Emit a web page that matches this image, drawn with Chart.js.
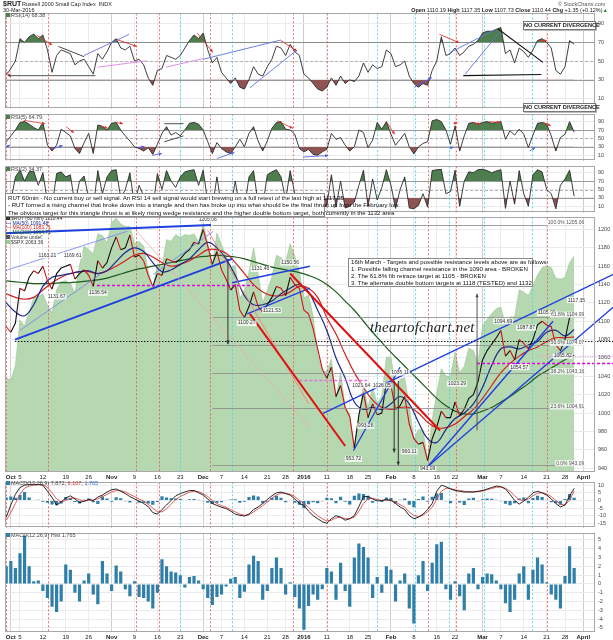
<!DOCTYPE html>
<html>
<head>
<meta charset="utf-8">
<title>$RUT 60 min</title>
<script src="https://cdn.jsdelivr.net/npm/chart.js@4.4.1/dist/chart.umd.min.js"></script>
<style>
  html, body { margin: 0; padding: 0; background: #fff; }
  body { width: 613px; height: 640px; position: relative; overflow: hidden; font-family: "Liberation Sans", Arial, sans-serif; color: #222; }
  canvas { position: absolute; left: 0; }
  .t { position: absolute; white-space: nowrap; font-size: 5.5px; line-height: 6px; }
  .box { position: absolute; background: #fff; border: 1px solid #8a8a8a; box-sizing: border-box; white-space: nowrap; color: #111; }
  .ncd { position: absolute; left: 523px; width: 73px; height: 9px; background: #fff; border: 1px solid #777; box-shadow: 1px 1px 0 #bbb; box-sizing: border-box; font-size: 5.6px; line-height: 7px; font-weight: bold; text-align: center; white-space: nowrap; }
  .ic { display: inline-block; width: 4px; height: 4px; margin-right: 1px; }
</style>
</head>
<body>
<canvas id="cRsi14"></canvas>
<canvas id="cRsi5"></canvas>
<canvas id="cRsi2"></canvas>
<canvas id="cPrice"></canvas>
<canvas id="cMacd"></canvas>
<canvas id="cHist"></canvas>

<div class="t" style="left:3px;top:0px;font-size:7px;line-height:8px;font-weight:bold">$RUT</div>
<div class="t" style="left:22px;top:1px">Russell 2000 Small Cap Index&nbsp; INDX</div>
<div class="t" style="left:3px;top:7px">30-Mar-2016</div>
<div class="t" style="left:558px;top:1px;color:#555">© StockCharts.com</div>
<div class="t" style="right:5px;top:7px"><b>Open</b> 1110.19 <b>High</b> 1117.35 <b>Low</b> 1107.73 <b>Close</b> 1110.44 <b>Chg</b> +1.35 (+0.12%)<span style="color:#2a8a2a">▲</span></div>

<div class="t" style="left:6px;top:12px;color:#444"><span class="ic" style="background:#4e7d4e"></span>RSI(14) 68.38</div>
<div class="t" style="left:6px;top:114px;color:#444"><span class="ic" style="background:#4e7d4e"></span>RSI(5) 64.79</div>
<div class="t" style="left:6px;top:166px;color:#444"><span class="ic" style="background:#4e7d4e"></span>RSI(2) 34.37</div>
<div class="ncd" style="top:21px">NO CURRENT DIVERGENCE</div>
<div class="ncd" style="top:103px">NO CURRENT DIVERGENCE</div>

<div class="t" style="left:6px;top:216px;line-height:4.7px;font-size:5px;color:#333">
  <span class="ic" style="background:#333"></span>$RUT (60 min) 1110.44<br>
  <span style="color:#1c2a8c">— MA(50) 1091.48</span><br>
  <span style="color:#d02020">— MA(100) 1083.71</span><br>
  <span style="color:#1d5a1d">— MA(200) 1064.71</span><br>
  <span class="ic" style="background:#555"></span>Volume undef<br>
  <span class="ic" style="background:#9cc897"></span>$SPX 2063.36
</div>
<div class="t" style="left:6px;top:480px;color:#444"><span class="ic" style="background:#2f7fa8"></span>MACD(12,26,9) 7.872, <span style="color:#d03030">6.107</span>, <span style="color:#2f6fd8">1.765</span></div>
<div class="t" style="left:6px;top:532px;color:#444"><span class="ic" style="background:#2f7fa8"></span>MACD(12,26,9) Hist 1.765</div>

<div class="box" style="left:5px;top:193px;width:320px;height:24px;font-size:6.1px;line-height:7.4px;padding:0 2px">
RUT 60min - No current buy or sell signal. An RSI 14 sell signal would start brewing on a full retest of the last high at 1117.35<br>
- RUT formed a rising channel that broke down into a triangle and then has broke up into what should be the final thrust up from the February low.<br>
The obvious target for this triangle thrust is at likely rising wedge resistance and the higher double bottom target, both currently in the 1132 area
</div>
<div class="box" style="left:348px;top:258px;width:185px;height:29px;font-size:6.1px;line-height:6.9px;padding:0 2px">
16th March - Targets and possible resistance levels above are as follows:<br>
1. Possible falling channel resistance in the 1090 area - BROKEN<br>
2. The 61.8% fib retrace target at 1105 - BROKEN<br>
3. The alternate double bottom targets at 1118 (TESTED) and 1132
</div>
<div class="t" style="left:370px;top:319px;font:italic 15px 'Liberation Serif';line-height:16px;letter-spacing:0.2px;color:#222">theartofchart.net</div>

<script>
// time axis: trading day index, 0 = 30 Sep 2015 ... 124 = 30 Mar 2016
const dateTickIdx = [1, 3, 8, 13, 18, 23, 28, 33, 38, 43, 47, 52, 57, 61, 65, 70, 75, 79, 84, 89, 94, 98, 104, 108, 113, 118, 122, 126];
const dateTickText = ['Oct', '5', '12', '19', '26', 'Nov', '9', '16', '23', 'Dec', '7', '14', '21', '28', '2016', '11', '18', '25', 'Feb', '8', '16', '22', 'Mar', '7', '14', '21', '28', 'April'];
const monthTickIdx = [1, 23, 43, 65, 84, 104, 126];
const redMarks = [0, 9.1, 28.3, 33.4, 44.5, 62.6, 70, 92.1, 98.2, 118.1];
const cyanMarks = [37.9, 49.3, 81, 89.3, 96.7, 104.3, 114.8];

const rsiTicks = [10, 30, 50, 70, 90];
const priceTicks = [940, 950, 960, 970, 980, 990, 1000, 1010, 1020, 1030, 1040, 1050, 1060, 1070, 1080, 1090, 1100, 1110, 1120, 1130, 1140, 1150, 1160, 1170, 1180, 1190, 1200, 1210];
const macdTicks = [-15, -10, -5, 0, 5, 10];
const histTicks = [-5, -4, -3, -2, -1, 0, 1, 2, 3, 4, 5];

// $RUT, one value per trading day
const rut = [
  1094, 1088, 1098, 1136, 1133, 1148, 1155, 1152, 1160, 1144,
  1135, 1152, 1158, 1160, 1162, 1146, 1152, 1156, 1150, 1138,
  1166, 1158, 1164, 1180, 1192, 1178, 1180, 1194, 1170, 1172,
  1166, 1150, 1138, 1152, 1150, 1168, 1166, 1164, 1168, 1174,
  1178, 1186, 1184, 1200, 1182, 1162, 1176, 1156, 1146, 1134,
  1140, 1112, 1104, 1116, 1132, 1116, 1110, 1118, 1126, 1138,
  1136, 1128, 1148, 1140, 1136, 1112, 1108, 1092, 1070, 1048,
  1038, 1050, 1018, 1030, 1006, 996, 962, 998, 1022, 995,
  1010, 998, 1000, 1034, 1030, 1004, 1008, 1018, 988, 972,
  966, 968, 948, 972, 985, 1002, 995, 995, 1012, 997,
  1004, 1016, 1020, 1034, 1058, 1068, 1075, 1082, 1090, 1062,
  1068, 1058, 1080, 1076, 1070, 1080, 1096, 1100, 1096, 1094,
  1074, 1068, 1080, 1104, 1110
];
// $SPX overlay (green area)
const spx = [
  1915, 1912, 1930, 1985, 1978, 1995, 2012, 2014, 2017, 2003,
  1994, 2022, 2032, 2033, 2030, 2018, 2052, 2075, 2071, 2066,
  2090, 2088, 2079, 2104, 2109, 2102, 2099, 2099, 2078, 2081,
  2075, 2045, 2023, 2053, 2050, 2083, 2081, 2089, 2086, 2089,
  2088, 2090, 2080, 2102, 2079, 2049, 2091, 2077, 2063, 2047,
  2052, 2012, 2021, 2043, 2073, 2041, 2006, 2021, 2038, 2064,
  2061, 2056, 2078, 2063, 2044, 2012, 2016, 1990, 1943, 1922,
  1923, 1938, 1890, 1921, 1880, 1870, 1830, 1868, 1907, 1878,
  1903, 1883, 1893, 1940, 1940, 1904, 1913, 1915, 1880, 1840,
  1852, 1851, 1815, 1864, 1896, 1926, 1917, 1917, 1946, 1921,
  1929, 1951, 1948, 1932, 1978, 1986, 1993, 1999, 2001, 1979,
  1989, 1989, 2022, 2019, 2015, 2027, 2040, 2049, 2051, 2049,
  2036, 2035, 2037, 2055, 2063
];
// moving averages, every 2nd trading day
const maStep = 2;
const ma50 = [
  1120, 1110, 1106, 1118, 1138, 1148, 1150, 1152, 1154, 1155,
  1152, 1155, 1165, 1175, 1180, 1176, 1164, 1154, 1156, 1162,
  1168, 1178, 1186, 1180, 1168, 1150, 1128, 1118, 1118, 1122,
  1130, 1136, 1140, 1132, 1112, 1090, 1060, 1038, 1012, 1004,
  1006, 1004, 1010, 1018, 1010, 990, 972, 968, 982, 994,
  1000, 1010, 1028, 1052, 1070, 1072, 1070, 1074, 1078, 1088,
  1090, 1084, 1091
];
const ma100 = [
  1130, 1126, 1124, 1126, 1134, 1142, 1148, 1152, 1154, 1154,
  1152, 1155, 1160, 1166, 1172, 1174, 1170, 1164, 1160, 1162,
  1166, 1172, 1178, 1178, 1174, 1164, 1152, 1140, 1132, 1128,
  1128, 1132, 1138, 1136, 1126, 1104, 1086, 1064, 1044, 1028,
  1014, 1006, 1004, 1006, 1006, 1000, 990, 984, 984, 988,
  996, 1004, 1016, 1030, 1044, 1054, 1062, 1068, 1072, 1078,
  1082, 1082, 1083
];
const ma200 = [
  1144, 1143, 1142, 1141, 1141, 1141, 1142, 1142, 1143, 1144,
  1145, 1147, 1150, 1153, 1156, 1158, 1160, 1162, 1164, 1166,
  1168, 1170, 1171, 1172, 1171, 1170, 1168, 1165, 1162, 1159,
  1157, 1155, 1153, 1150, 1146, 1140, 1132, 1122, 1112, 1100,
  1088, 1077, 1066, 1056, 1046, 1036, 1026, 1016, 1008, 1002,
  999, 999, 1002, 1006, 1012, 1018, 1025, 1032, 1040, 1046,
  1052, 1058, 1063
];
const rsi14 = [
  35, 42, 50, 74, 70, 76, 79, 74, 78, 62,
  38, 56, 62, 60, 58, 46, 50, 52, 44, 36,
  58, 52, 60, 70, 74, 64, 62, 66, 50, 52,
  46, 32, 24, 40, 42, 56, 54, 52, 56, 64,
  72, 78, 74, 80, 62, 48, 54, 38, 32, 26,
  32, 22, 20, 30, 44, 36, 34, 44, 52, 66,
  64, 56, 68, 60, 56, 36, 32, 26, 20, 18,
  22, 32, 24, 34, 26, 30, 28, 34, 48, 38,
  46, 42, 44, 62, 58, 44, 46, 50, 34, 26,
  22, 26, 24, 40, 50, 76, 56, 58, 64, 56,
  60, 66, 68, 72, 80, 82, 82, 84, 86, 58,
  62, 48, 64, 60, 54, 62, 72, 74, 70, 64,
  40, 36, 44, 72, 68
];
const rsi5 = [
  42, 56, 70, 88, 90, 84, 76, 70, 88, 34,
  20, 34, 72, 64, 56, 26, 14, 40, 62, 14,
  82, 78, 70, 86, 88, 70, 56, 44, 30, 26,
  20, 28, 12, 36, 62, 78, 58, 64, 56, 70,
  86, 88, 84, 70, 42, 14, 40, 26, 18, 14,
  30, 48, 30, 62, 78, 44, 20, 44, 74, 88,
  90, 72, 70, 60, 26, 18, 24, 12, 10, 18,
  24, 62, 48, 52, 34, 20, 30, 70, 64, 28,
  46, 88, 72, 90, 60, 34, 48, 62, 30, 13,
  30, 38, 42, 92, 95, 90, 70, 36, 80, 20,
  56, 86, 88, 84, 88, 90, 86, 88, 90, 48,
  68, 58, 72, 60, 28, 58, 86, 88, 84, 56,
  20, 52, 60, 90, 65
];
const rsi2 = [
  30, 20, 80, 96, 70, 92, 94, 60, 90, 20,
  8, 88, 92, 80, 85, 15, 70, 82, 30, 8,
  95, 40, 80, 95, 97, 30, 50, 90, 12, 60,
  35, 10, 5, 88, 50, 95, 70, 55, 80, 92,
  95, 97, 60, 96, 20, 6, 80, 10, 8, 6,
  70, 5, 4, 80, 95, 15, 10, 85, 92, 97,
  80, 25, 95, 40, 30, 5, 20, 6, 4, 3,
  12, 85, 8, 70, 6, 10, 20, 60, 96, 10,
  75, 25, 55, 97, 60, 5, 50, 80, 6, 4,
  12, 40, 8, 95, 97, 98, 40, 45, 96, 10,
  70, 92, 90, 97, 98, 95, 90, 94, 97, 5,
  70, 15, 95, 40, 10, 85, 97, 92, 50, 40,
  4, 60, 75, 96, 34
];
const macd = [
  -11, -3, 4, 8.5, 10, 10.5, 10.5, 10.5, 10, 6,
  2, -3, -1, 1.6, 3, 1, -1.4, -0.5, 0.6, 0,
  2.2, 3.5, 5.5, 7, 7.5, 6, 4.5, 2.5, 1, -0.4,
  -2, -4, -8, -9, -6, -3, 0, 3, 4.5, 5.5,
  6.5, 6.5, 5, 3.5, 1, -2, -3.3, -4.5, -5.3, -7,
  -9, -9.8, -10.2, -9, -6, -4.3, -2, 0.6, 3, 5,
  5.5, 4.5, 3.5, 1, -2, -3.3, -7, -10, -12, -14,
  -15, -12, -10, -11, -13, -12, -10, -4, 2.5, 2.5,
  1, -0.4, 0, 0.5, 0, -2, -4.3, -6, -10, -12,
  -11, -9, -6, -2, 6, 10, 9, 7.5, 6.5, 6,
  5.5, 5.5, 5.5, 6, 6.5, 7.5, 8.5, 9.4, 9, 7.5,
  4, 0, -2.4, -0.4, 2, 5, 6, 5, 3.5, 1,
  -2, -4.3, -3, 3, 7.9
];
const macdSignal = [
  -13, -8, -2, 4, 8, 9.5, 10, 10.3, 10.3, 8.5,
  5, 1, -1, 0, 1.5, 1.5, 0.5, -0.5, 0, 0.2,
  1, 2.5, 4, 5.5, 6.5, 6.5, 5.5, 4, 2.5, 1,
  -0.5, -2.5, -5, -7.5, -7.5, -5.5, -2.5, 0.5, 2.5, 4,
  5.5, 6, 5.8, 4.5, 2.5, 0, -2, -3.5, -4.5, -6,
  -7.5, -9, -9.8, -9.5, -7.5, -5.5, -3.5, -1, 1.5, 3.5,
  4.8, 4.8, 4, 2.5, 0, -2, -4.5, -7.5, -10, -12,
  -13.5, -13, -11.5, -11, -12, -12, -11, -7, -2, 1,
  1.5, 0.5, 0, 0.2, 0.2, -1, -2.8, -4.5, -7.5, -10,
  -10.5, -9.8, -7.5, -4.5, 1, 6, 8, 7.8, 7, 6.5,
  6, 5.8, 5.6, 5.8, 6.2, 7, 7.8, 8.6, 8.8, 8,
  6, 3, 0.5, -0.2, 0.8, 3, 4.8, 5, 4.2, 2.5,
  0, -2.5, -3, 0, 6.1
];
const macdHist = [
  2, 2.6, 1.8, 3.5, 5.5, 2, 0.3, 0.4, -0.8, -1.6,
  -2.6, -3.2, -2, 2.2, 1.6, -1, -2, 0.4, 1.2, -1.2,
  -2.3, 2.6, 1.2, -0.8, 2.1, 1.4, -0.6, -1.4, 0.3, -1.5,
  -1.6, -2, -2.8, -1, 2.8, 2, 1.4, 1.3, 1, -0.4,
  0.8, 0.9, 0.4, -0.6, -1.6, -2.4, -1.5, -1.2, -0.3, 0.6,
  0.8, -1.6, -0.9, 2.2, 3.2, 2.6, -1.8, -0.8, 1.8, 3,
  1.8, -1.2, 0.2, -1.5, -2.8, -5.2, -2.5, -1.2, -1.8, -0.6,
  1.8, 1.4, -1.8, 2.4, -0.8, -2.6, 3, 4.6, 4.2, 3,
  -1.6, 0.8, -1, 2, 1.6, -2, 0.4, 1.2, -2.8, -4.5,
  1, 2.6, -0.8, 2.4, 4.5, 4.8, -0.6, -1.8, 0.3, -1.4,
  -3, 1.2, 1.8, -0.6, 0.8, 1.2, 1.1, 0.4, -0.6, -2.2,
  -3.2, -1.8, 1.2, 2, -1.8, 1.6, 3, 2.2, 0.2, -1.2,
  -1.8, -2.8, 0.9, 4.3, 1.8
];

// chart notes, in data units [day index, value]
const fibLevels = [[1205.06, '100.0% 1205.06'], [1104.99, '61.8% 1104.99'], [1074.07, '50.0% 1074.07'], [1043.16, '38.2% 1043.16'], [1004.91, '23.6% 1004.91'], [943.09, '0.0% 943.09']];
const priceNotes = [
  [9, 1172, '1163.21'], [14.5, 1172, '1169.61'], [11, 1127, '1131.67'], [20, 1131, '1136.54'],
  [44, 1211, '1205.06'], [52.5, 1098, '1100.27'], [55.5, 1157, '1131.46'], [58, 1112, '1121.53'],
  [62, 1164, '1150.56'], [77.5, 1030, '1021.64'], [82, 1030, '1026.05'], [86, 1044, '1035.11'],
  [78.5, 986, '993.28'], [75.8, 950, '953.72'], [92, 939, '943.09'], [88, 958, '960.11'],
  [98.4, 1032, '1023.29'], [108.5, 1100, '1094.69'], [113.5, 1093, '1087.87'], [112, 1050, '1054.57'],
  [118, 1109, '1105.09'], [124.5, 1123, '1117.35'], [121.5, 1062, '1065.82']
];

const xMin = -0.27, xMax = 128.55;
const items = {
  cRsi14: {
    under: { hlines: [[xMin, xMax, 70, '#9a9a9a', 1], [xMin, xMax, 30, '#9a9a9a', 1], [xMin, xMax, 50, '#b4b4b4', 1, [3, 2]]] },
    over: { segs: [
      [-0.3, 40, 1, 33, '#e03030', 0.9, 1], [6.7, 77.5, 10, 67.3, '#e03030', 0.9, 1], [11.4, 65.7, 17, 54.7, '#333', 0.9],
      [17, 56, 26.8, 78.6, '#6070e8', 0.9], [24.2, 73, 28.5, 65.7, '#e03030', 0.9, 1], [20, 43.5, 30.6, 50.3, '#e080e8', 0.9],
      [0.3, 34.4, 19.5, 34.4, '#444', 0.9], [41.7, 79.9, 45.1, 59.5, '#e03030', 0.9, 1], [34.9, 43.5, 43, 52.7, '#e080e8', 0.9],
      [43, 52, 60, 72.6, '#6070e8', 0.9], [60, 72, 63.5, 60.5, '#e03030', 0.9, 1], [53.2, 21.4, 63.5, 62, '#6070e8', 0.9],
      [89.1, 22, 92.9, 32.3, '#4a5ae0', 0.9, 1], [94.6, 78.6, 98.9, 69.7, '#e03030', 0.9, 1], [96.8, 58.9, 107, 84.4, '#6070e8', 0.9],
      [100.2, 36, 107.9, 82, '#6070e8', 0.9], [107.4, 84.4, 117.2, 48.6, '#111', 1.1], [99.8, 34.4, 116.8, 35.7, '#111', 1.1],
      [116.5, 72, 118, 72, '#e03030', 0.9, 1]
    ] }
  },
  cRsi5: {
    under: { hlines: [[xMin, xMax, 70, '#9a9a9a', 1], [xMin, xMax, 30, '#9a9a9a', 1], [xMin, xMax, 50, '#b4b4b4', 1, [3, 2]]] },
    over: { segs: [
      [3.8, 93, 8.5, 85, '#e03030', 0.8, 1], [-0.9, 23.8, 0.8, 34.6, '#4a5ae0', 0.8, 1], [9.7, 23.8, 12.3, 33, '#4a5ae0', 0.8, 1],
      [13.1, 77.8, 14.8, 63.4, '#e03030', 0.8, 1], [20.4, 81.4, 22.1, 74.2, '#e03030', 0.8, 1], [23.8, 88.6, 25.5, 85, '#e03030', 0.8, 1],
      [28.5, 27.4, 30.2, 31, '#4a5ae0', 0.8, 1], [31.9, 9.4, 34, 14.5, '#4a5ae0', 0.8, 1], [34.5, 85, 38.7, 85, '#222', 0.8],
      [34.5, 42, 38.7, 56, '#222', 0.8], [46, 2.2, 49.8, 16.6, '#4a5ae0', 0.8, 1], [59.2, 92, 62.6, 74, '#e03030', 0.8, 1],
      [64.8, 5.8, 70.3, 9.4, '#4a5ae0', 0.8, 1], [83.1, 88.6, 84.8, 59.8, '#e03030', 0.8, 1], [96.8, 26, 97.6, 30, '#4a5ae0', 0.8, 1],
      [97.6, 85, 98.5, 88, '#e03030', 0.8, 1], [101.9, 88, 103.6, 84, '#e03030', 0.8, 1], [105.5, 90, 107.8, 88, '#e03030', 0.8, 1],
      [114.3, 20, 115.5, 29, '#4a5ae0', 0.8, 1], [117.2, 88, 118.9, 80, '#e03030', 0.8, 1]
    ] }
  },
  cRsi2: {
    under: { hlines: [[xMin, xMax, 70, '#9a9a9a', 1], [xMin, xMax, 30, '#9a9a9a', 1], [xMin, xMax, 50, '#b4b4b4', 1, [3, 2]]] }
  },
  cPrice: {
    marksAfter: 0,
    over: {
      hlines: [
        [1.9, 135, 1078.5, '#111', 1, [1.5, 1.5]], [19.8, 54, 1140, '#e000e0', 1.4, [3, 2]],
        [64, 78.8, 1036.5, '#e070e8', 1.4, [3, 2]], [116.5, 135, 1062.5, '#f090f0', 1, [1, 1.5]],
        [102.8, 135, 1054.5, '#e000e0', 1.4, [3, 2]]
      ].concat(fibLevels.map(f => [45, 126.4, f[0], '#8a8a8a', 0.8])),
      segs: [
        [-0.3, 1196, 44.7, 1205, '#1f3fe0', 2], [1.9, 1080, 49.3, 1168, '#1f3fe0', 2],
        [-0.3, 1155, 26.4, 1198, '#7080f0', 0.8], [3, 1090, 20.5, 1151, '#7080f0', 0.8], [32.1, 1151, 45.2, 1198, '#7080f0', 0.8],
        [49.3, 1142, 66.3, 1160, '#1f3fe0', 1.4], [52.6, 1108, 66.3, 1136, '#1f3fe0', 1.4],
        [69.2, 999.6, 135, 1157, '#1f3fe0', 1.4], [92.1, 942, 119.4, 1100, '#1f3fe0', 1.4], [92.1, 942, 135, 1126, '#1f3fe0', 1.4],
        [75.8, 959, 86, 1050, '#1f3fe0', 1.2],
        [44, 1199, 66, 1010, '#f08080', 0.9], [28.5, 1198, 66.3, 984, '#f0a8a8', 0.8],
        [53.2, 1108, 74, 964, '#e01010', 2], [62, 1152, 94.7, 981, '#e01010', 2]
      ],
      arrows: [[48.4, 1168, 1075, '#333'], [102.8, 981, 1130, '#555'], [84.7, 1035, 957, '#333'], [85.6, 1035, 943, '#333']],
      texts: priceNotes.concat(fibLevels.map(f => [126.2, f[0] + 2.2, f[1], '#555', 'right']))
    }
  }
};

function arrowHead(g, p1, p2, col, size) {
  const ang = Math.atan2(p2[1] - p1[1], p2[0] - p1[0]);
  g.fillStyle = col;
  g.beginPath();
  g.moveTo(p2[0], p2[1]);
  g.lineTo(p2[0] - size * Math.cos(ang - 0.45), p2[1] - size * Math.sin(ang - 0.45));
  g.lineTo(p2[0] - size * Math.cos(ang + 0.45), p2[1] - size * Math.sin(ang + 0.45));
  g.closePath();
  g.fill();
}

function drawItems(c, it) {
  if (!it) return;
  const g = c.ctx, a = c.chartArea, xs = c.scales.x, ys = c.scales.y;
  const X = v => xs.getPixelForValue(v), Y = v => ys.getPixelForValue(v);
  g.save();
  g.beginPath(); g.rect(a.left, a.top, 613 - a.left, a.bottom - a.top); g.clip();
  (it.hlines || []).forEach(([x1, x2, v, col, w, dash]) => {
    const y = Math.round(Y(v)) + 0.5;
    g.strokeStyle = col; g.lineWidth = w; g.setLineDash(dash || []);
    g.beginPath(); g.moveTo(X(x1), y); g.lineTo(X(x2), y); g.stroke();
  });
  g.setLineDash([]);
  (it.segs || []).forEach(([x1, v1, x2, v2, col, w, hd]) => {
    const p1 = [X(x1), Y(v1)], p2 = [X(x2), Y(v2)];
    g.strokeStyle = col; g.lineWidth = w;
    g.beginPath(); g.moveTo(p1[0], p1[1]); g.lineTo(p2[0], p2[1]); g.stroke();
    if (hd) arrowHead(g, p1, p2, col, 3.5);
  });
  (it.arrows || []).forEach(([x, v1, v2, col]) => {
    const p1 = [X(x), Y(v1)], p2 = [X(x), Y(v2)];
    g.strokeStyle = col; g.lineWidth = 1;
    g.beginPath(); g.moveTo(p1[0], p1[1]); g.lineTo(p2[0], p2[1]); g.stroke();
    arrowHead(g, p1, p2, col, 4);
  });
  g.font = '5px "Liberation Sans"'; g.textBaseline = 'middle';
  (it.texts || []).forEach(([x, v, s, col, align]) => {
    const w = g.measureText(s).width, px = X(x), py = Y(v);
    const lx = align === 'right' ? px - w : px - w / 2;
    g.fillStyle = 'rgba(255,255,255,0.8)'; g.fillRect(lx - 1, py - 3, w + 2, 6);
    g.textAlign = align || 'center';
    g.fillStyle = col || '#333'; g.fillText(s, px, py);
  });
  g.restore();
}

function drawMarks(c) {
  const g = c.ctx, a = c.chartArea, xs = c.scales.x;
  g.save(); g.lineWidth = 1; g.setLineDash([2, 2]);
  [[redMarks, 'rgba(232,90,90,0.85)'], [cyanMarks, 'rgba(70,215,235,0.9)']].forEach(([m, col]) => {
    g.strokeStyle = col;
    m.forEach(v => {
      const px = Math.round(xs.getPixelForValue(v)) + 0.5;
      g.beginPath(); g.moveTo(px, a.top); g.lineTo(px, a.bottom); g.stroke();
    });
  });
  g.restore();
}

const overlay = {
  id: 'overlay',
  beforeDraw(c) {
    const a = c.chartArea;
    c.ctx.save(); c.ctx.fillStyle = '#fff'; c.ctx.fillRect(a.left, a.top, a.width, a.height); c.ctx.restore();
  },
  beforeDatasetsDraw(c) {
    const it = items[c.canvas.id] || {};
    drawItems(c, it.under);
    if (it.marksAfter == null) drawMarks(c);
  },
  afterDatasetDraw(c, args) {
    const it = items[c.canvas.id] || {};
    if (it.marksAfter === args.index) drawMarks(c);
  },
  afterDatasetsDraw(c) {
    const it = items[c.canvas.id] || {};
    drawItems(c, it.over);
  },
  afterDraw(c) {
    const a = c.chartArea, g = c.ctx;
    g.save(); g.strokeStyle = '#a8a8a8'; g.lineWidth = 1;
    g.strokeRect(Math.round(a.left) + 0.5, Math.round(a.top) + 0.5, Math.round(a.width) - 1, Math.round(a.height) - 1);
    g.restore();
  }
};

Chart.defaults.font.family = '"Liberation Sans", Arial, sans-serif';

function pts(arr, step) { return arr.map((v, i) => ({ x: i * (step || 1), y: v })); }

function xAxis(showLabels) {
  return {
    type: 'linear', min: xMin, max: xMax, offset: false,
    afterBuildTicks: s => { s.ticks = dateTickIdx.map(v => ({ value: v })); },
    afterFit: s => { s.height = showLabels ? 10 : 0; },
    grid: { color: c => monthTickIdx.includes(c.tick && c.tick.value) ? '#cdcdcd' : '#ececec', drawTicks: false, offset: false },
    border: { display: false },
    ticks: {
      display: showLabels, autoSkip: false, maxRotation: 0, padding: 2, color: '#222',
      font: c => ({ size: 6, weight: monthTickIdx.includes(c.tick && c.tick.value) ? 'bold' : 'normal' }),
      callback: v => dateTickText[dateTickIdx.indexOf(v)]
    }
  };
}

function yAxis(min, max, ticks) {
  return {
    position: 'right', min: min, max: max,
    afterBuildTicks: s => { s.ticks = ticks.map(v => ({ value: v })); },
    afterFit: s => { s.width = 18; },
    grid: { color: '#ebebeb', drawTicks: false },
    border: { display: false },
    ticks: { font: { size: 5.5 }, color: '#444', padding: 3, callback: v => String(v) }
  };
}

function panel(id, areaTop, areaH, labels, datasets, scales) {
  const cv = document.getElementById(id);
  const h = 5 + areaH + (labels ? 10 : 0) + 3;
  cv.width = 613; cv.height = h;
  cv.style.width = '613px'; cv.style.height = h + 'px';
  cv.style.top = (areaTop - 5) + 'px';
  return new Chart(cv, {
    type: 'line',
    data: { datasets: datasets },
    options: {
      responsive: false, animation: false, devicePixelRatio: 1,
      layout: { padding: { left: 5, right: 0, top: 5, bottom: 3 } },
      plugins: { legend: { display: false }, tooltip: { enabled: false } },
      elements: { point: { radius: 0 }, line: { tension: 0 } },
      scales: Object.assign({ x: xAxis(labels) }, scales)
    },
    plugins: [overlay]
  });
}

function rsiSets(arr) {
  const d = pts(arr);
  return [
    { data: d, borderWidth: 0, fill: { target: { value: 70 }, above: '#4e7d4e', below: 'rgba(0,0,0,0)' }, order: 3 },
    { data: d, borderWidth: 0, fill: { target: { value: 30 }, above: 'rgba(0,0,0,0)', below: '#8e5454' }, order: 2 },
    { data: d, borderColor: '#2a2a2a', borderWidth: 0.9, fill: false, order: 1 }
  ];
}

panel('cRsi14', 12, 100, false, rsiSets(rsi14), { y: yAxis(-1, 101.2, rsiTicks) });
panel('cRsi5', 113, 51, false, rsiSets(rsi5), { y: yAxis(-3, 107.4, rsiTicks) });
panel('cRsi2', 165, 51, false, rsiSets(rsi2), { y: yAxis(-5.2, 105.2, rsiTicks) });

panel('cPrice', 216, 256, true, [
  { data: pts(spx), yAxisID: 'spx', fill: 'start', backgroundColor: '#b6d8b1', borderColor: '#97c592', borderWidth: 0.6, order: 10 },
  { data: pts(ma200, maStep), borderColor: '#1d5a1d', borderWidth: 1.2, tension: 0.4, order: 5 },
  { data: pts(ma100, maStep), borderColor: '#d02020', borderWidth: 1.2, tension: 0.4, order: 4 },
  { data: pts(ma50, maStep), borderColor: '#1c2a8c', borderWidth: 1.2, tension: 0.4, order: 3 },
  { data: pts(rut), borderColor: '#111', borderWidth: 1.1, order: 1,
    segment: { borderColor: s => s.p1.parsed.y < s.p0.parsed.y ? '#d01010' : '#111' } }
], {
  y: yAxis(935.7, 1213.3, priceTicks),
  spx: { display: false, min: 1800.3, max: 2110.2 }
});

panel('cMacd', 481, 50, false, [
  { type: 'bar', data: pts(macdHist), backgroundColor: '#2f7fa8', barPercentage: 0.7, categoryPercentage: 1, order: 3 },
  { data: pts(macdSignal), borderColor: '#e04848', borderWidth: 0.9, order: 2 },
  { data: pts(macd), borderColor: '#111', borderWidth: 0.9, order: 1 }
], { y: yAxis(-17.9, 11.9, macdTicks) });

panel('cHist', 532, 100, true, [
  { type: 'bar', data: pts(macdHist), backgroundColor: '#2f7fa8', barPercentage: 0.7, categoryPercentage: 1 }
], { y: yAxis(-5.47, 5.76, histTicks) });
</script>
</body>
</html>
